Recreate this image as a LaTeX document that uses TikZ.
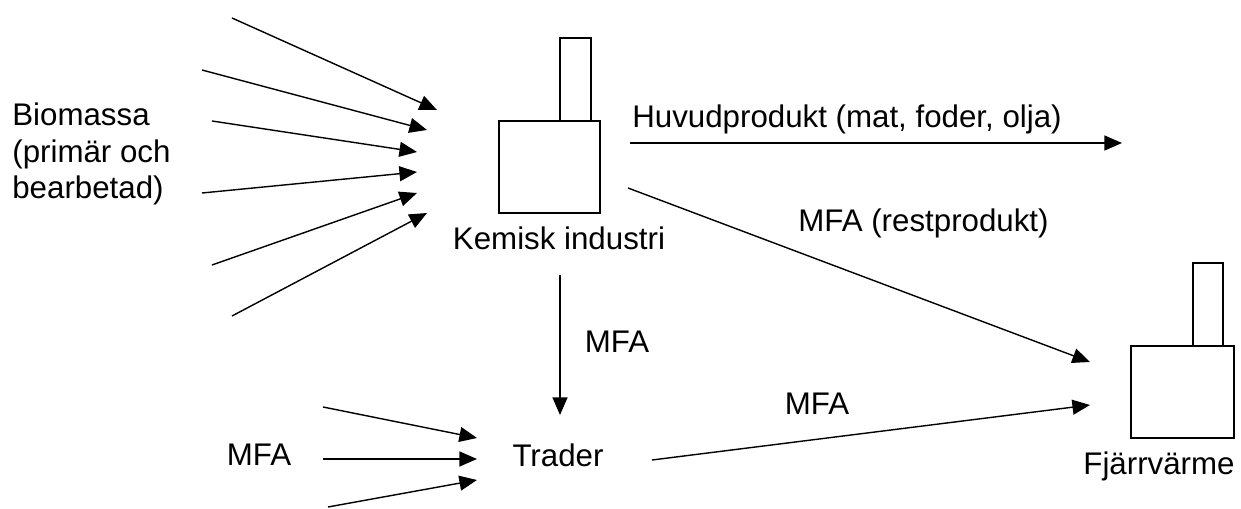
\documentclass[tikz,border=0pt]{standalone}
\usepackage{fontspec}
\setmainfont{Liberation Sans}
\usetikzlibrary{arrows.meta}

\begin{document}
\begin{tikzpicture}[x=0.02cm,y=-0.02cm,
		flow/.style={-{Triangle[length=10pt,width=8.5pt]},line width=0.8pt},
		plant/.style={draw,line width=0.7pt},
		lbl/.style={font=\fontsize{17.8}{20.8}\selectfont,inner sep=0pt}]
		%%%%% START %%%%%
		\useasboundingbox (0,0) rectangle (1241,509);
		
		% Kemisk industri
		\draw[plant] (560,38) rectangle (591,121);
		\draw[plant] (499,121) rectangle (600,213);
		\node[lbl,anchor=base] (kemi) at (559,250) {Kemisk industri};
		
		% Fjaerrvaerme
		\draw[plant] (1193,263) rectangle (1223,346);
		\draw[plant] (1131,346) rectangle (1234,438);
		\node[lbl,anchor=base] (fjv) at (1159,475) {Fjärrvärme};
		
		\node[lbl,anchor=base] (trader) at (558,467) {Trader};
		\node[lbl,align=left,anchor=base west] (bio) at (12,199) {Biomassa\\(primär och\\bearbetad)};
		\node[lbl,anchor=base] (mfain) at (259,466) {MFA};
		
		% biomassa in
		\coordinate (b1) at (232,18);  \coordinate (k1) at (437,110);
		\coordinate (b2) at (202,70);  \coordinate (k2) at (427,130);
		\coordinate (b3) at (212,121); \coordinate (k3) at (417,152);
		\coordinate (b4) at (202,193); \coordinate (k4) at (417,172);
		\coordinate (b5) at (212,265); \coordinate (k5) at (417,193);
		\coordinate (b6) at (232,316); \coordinate (k6) at (427,213);
		\foreach \i in {1,...,6}
		\draw[flow] (b\i) -- (k\i);
		
		% MFA in
		\coordinate (m1) at (323,407); \coordinate (t1) at (477,438);
		\coordinate (m2) at (323,459); \coordinate (t2) at (477,459);
		\coordinate (m3) at (328,507); \coordinate (t3) at (477,480);
		\foreach \i in {1,2,3}
		\draw[flow] (m\i) -- (t\i);
		
		% outflows
		\coordinate (kout) at (630,143); \coordinate (hend) at (1122,143);
		\draw[flow] (kout) -- (hend);
		\node[lbl,anchor=base west] (huvud) at (632,128) {Huvudprodukt (mat, foder, olja)};
		
		\coordinate (krest) at (628,188); \coordinate (frest) at (1090,362);
		\draw[flow] (krest) -- (frest);
		\node[lbl,anchor=base west] (rest) at (798,232) {MFA (restprodukt)};
		
		\coordinate (kdown) at (560,275); \coordinate (tup) at (560,415);
		\draw[flow] (kdown) -- (tup);
		\node[lbl,anchor=base] (mfadown) at (617,353) {MFA};
		
		\coordinate (tout) at (652,460); \coordinate (fin) at (1090,405);
		\draw[flow] (tout) -- (fin);
		\node[lbl,anchor=base] (mfaout) at (817,415) {MFA};
		
		%%%%% END %%%%%
	\end{tikzpicture}
\end{document}
